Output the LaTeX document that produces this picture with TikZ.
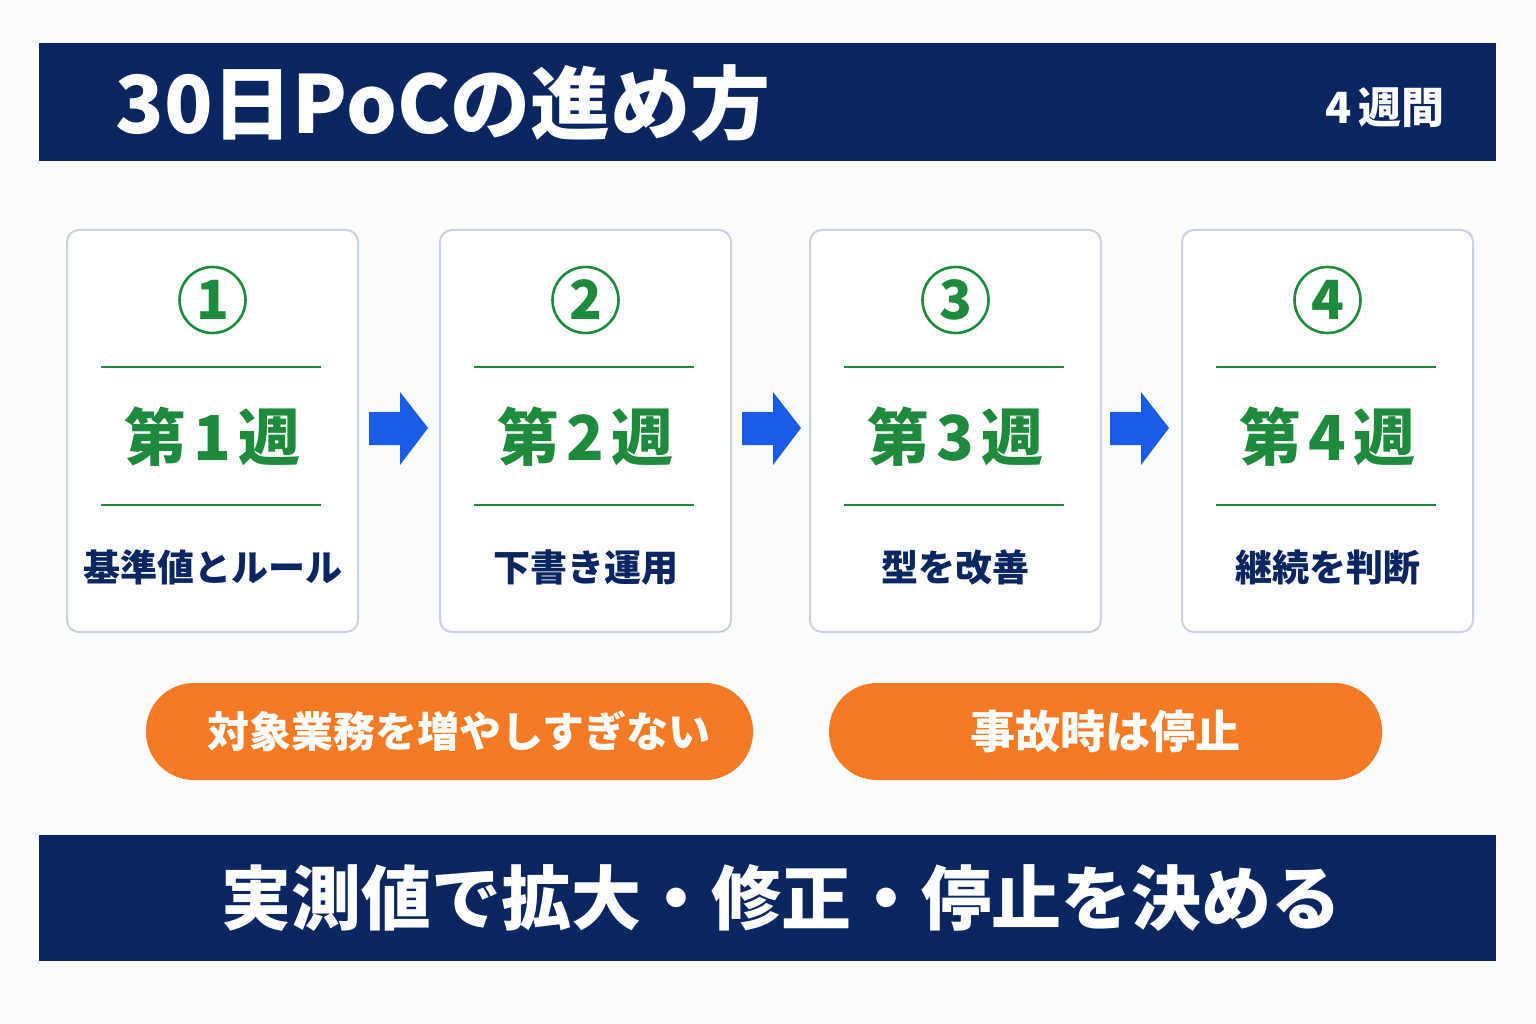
\documentclass[tikz,border=0pt]{standalone}
\usepackage{fontspec}
\setmainfont{Noto Sans CJK JP}
\usetikzlibrary{positioning}

\definecolor{navy}{HTML}{0A2660}
\definecolor{weekgreen}{HTML}{1E8A3C}
\definecolor{arrowblue}{HTML}{1A5CE6}
\definecolor{pillorange}{HTML}{F57A25}
\definecolor{cardline}{HTML}{C9D1E2}
\definecolor{paper}{HTML}{FBFCFE}

\tikzset{
  banner/.style={fill=navy, inner sep=0pt},
  card/.style={draw=cardline, line width=2pt, fill=white, rounded corners=12pt,
    minimum width=291pt, minimum height=402pt},
  numring/.style={circle, draw=weekgreen, line width=2.6pt, minimum size=66pt,
    inner sep=0pt, text=weekgreen, font=\bfseries\fontsize{54}{54}\selectfont},
  weeklabel/.style={text=weekgreen, font=\bfseries\fontsize{62}{62}\selectfont},
  sublabel/.style={text=navy, font=\bfseries\fontsize{37}{37}\selectfont},
  pill/.style={fill=pillorange, rounded corners=48pt, minimum height=97pt,
    text=white, font=\bfseries\fontsize{42}{42}\selectfont},
  flowarrow/.style={fill=arrowblue}
}

\begin{document}
\begin{tikzpicture}[x=1pt, y=-1pt]
    \useasboundingbox (0,0) rectangle (1536,1024);
    \fill[paper] (0,0) rectangle (1536,1024);

    % Header
    \node[banner, minimum width=1457pt, minimum height=118pt] (head) at (767.5,102) {};
    \node[anchor=west, text=white, font=\bfseries\fontsize{80}{80}\selectfont] (title) at (112,103) {30日PoCの進め方};
    \node[anchor=east, text=white, font=\bfseries\fontsize{43}{43}\selectfont] (span) at (1448,108) {4\,週間};

    % Week cards
    \foreach \i/\x/\sub in {1/212.5/基準値とルール, 2/585.5/下書き運用, 3/955.5/型を改善, 4/1327.5/継続を判断} {
        \node[card] (card\i) at (\x,431) {};
        \node[numring] (num\i) at (\x,300) {\i};
        \node[weeklabel] (week\i) at (\x,437) {第\hspace{7pt}\i\hspace{7pt}週};
        \node[sublabel] (sub\i) at (\x,567) {\sub};
        \draw[weekgreen, line width=2pt] (\x-112,367) -- (\x+108,367);
        \draw[weekgreen, line width=2pt] (\x-112,505) -- (\x+108,505);
    }

    % Arrows between cards
    \foreach \x in {399, 772, 1140}
        \fill[flowarrow] (\x-30,412) -- (\x+1,412) -- (\x+1,392) -- (\x+29,428)
            -- (\x+1,465) -- (\x+1,445) -- (\x-30,445) -- cycle;

    % Cautions
    \node[pill, minimum width=607pt] (scope) at (449.5,731.5) {};
    \node[text=white, font=\bfseries\fontsize{42}{42}\selectfont] (scopetext) at (459,731.5) {対象業務を増やしすぎない};
    \node[pill, minimum width=553pt, font=\bfseries\fontsize{45}{45}\selectfont] (halt) at (1105.5,731.5) {事故時は停止};

    % Footer
    \node[banner, minimum width=1457pt, minimum height=126pt] (foot) at (767.5,898) {};
    \node[text=white, font=\bfseries\fontsize{70}{70}\selectfont] (motto) at (781,898) {実測値で拡大・修正・停止を決める};
\end{tikzpicture}
\end{document}
